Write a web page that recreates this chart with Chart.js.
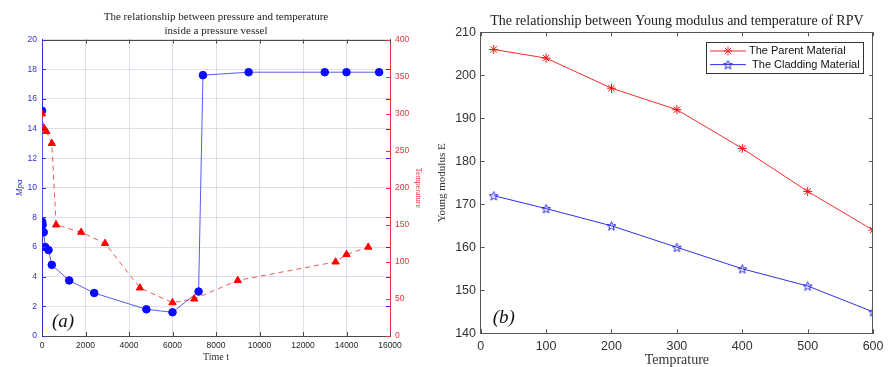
<!DOCTYPE html>
<html>
<head>
<meta charset="utf-8">
<script src="https://cdn.jsdelivr.net/npm/chart.js@4.4.1/dist/chart.umd.min.js"></script>
<style>
  html, body { margin: 0; padding: 0; background: #fff; }
  #wrap { position: relative; width: 889px; height: 367px; overflow: hidden; }
  #leftBox { position: absolute; left: 0; top: 0; }
  #rightBox { position: absolute; left: 432px; top: 0; }
</style>
</head>
<body>
<div id="wrap">
  <div id="leftBox"><canvas id="pressureChart" width="434" height="367"></canvas></div>
  <div id="rightBox"><canvas id="youngChart" width="457" height="367"></canvas></div>
</div>
<script>
// (a) 圧力容器内の圧力と温度
const pressureTime = [0, 10, 30, 80, 150, 300, 450, 1250, 2400, 4800, 6000, 7200, 7400, 9500, 13000, 14000, 15500];
const pressureValues = [15.2, 7.7, 7.5, 7.0, 6.0, 5.8, 4.8, 3.75, 2.9, 1.8, 1.6, 3.0, 17.6, 17.8, 17.8, 17.8, 17.8];
const tempTime = [0, 100, 200, 450, 650, 1800, 2900, 4500, 6000, 7000, 9000, 13500, 14000, 15000];
const tempValues = [300, 280, 276, 260, 150, 140, 125, 65, 45, 50, 75, 100, 110, 120];

// (b) ヤング率と温度
const tempratureCategories = [20, 100, 200, 300, 400, 500, 600];
const parentValues = [206, 204, 197, 192, 183, 173, 164];
const claddingValues = [172, 169, 165, 160, 155, 151, 145];
const seriesLabels = ['The Parent Material', ' The Cladding Material'];

Chart.defaults.font.family = '"Liberation Sans", Arial, sans-serif';
Chart.defaults.animation = false;

const BLUE = '#2f2fd8';
const RED = '#e8323c';
const FRAME = '#4a4a4a';

// 目盛りラベルはカンマ無し
function plainTick(value) { return String(value); }

// 枠線と内向きの目盛り線を描く
const frameTicks = {
  id: 'frameTicks',
  afterDatasetsDraw(chart, args, opts) {
    const ctx = chart.ctx;
    const a = chart.chartArea;
    const len = 4;
    ctx.save();
    ctx.lineWidth = 1;
    ctx.strokeStyle = opts.frameColor;
    ctx.beginPath();
    ctx.moveTo(a.left, Math.round(a.top) + 0.5);
    ctx.lineTo(a.right, Math.round(a.top) + 0.5);
    if (opts.rightFrame) {
      ctx.moveTo(Math.round(a.right) - 0.5, a.top);
      ctx.lineTo(Math.round(a.right) - 0.5, a.bottom);
    }
    ctx.stroke();
    (opts.marks || []).forEach(function (m) {
      const sc = chart.scales[m.scale];
      ctx.strokeStyle = m.color;
      ctx.beginPath();
      sc.ticks.forEach(function (t, i) {
        const p = Math.round(sc.getPixelForTick(i)) + 0.5;
        m.sides.forEach(function (side) {
          if (side === 'bottom') { ctx.moveTo(p, a.bottom); ctx.lineTo(p, a.bottom - len); }
          if (side === 'top') { ctx.moveTo(p, a.top); ctx.lineTo(p, a.top + len); }
          if (side === 'left') { ctx.moveTo(a.left, p); ctx.lineTo(a.left + len, p); }
          if (side === 'right') { ctx.moveTo(a.right, p); ctx.lineTo(a.right - len, p); }
        });
      });
      ctx.stroke();
    });
    ctx.restore();
  }
};

// (a) (b) のラベル
const panelTag = {
  id: 'panelTag',
  afterDraw(chart, args, opts) {
    const ctx = chart.ctx;
    const a = chart.chartArea;
    ctx.save();
    ctx.font = 'italic 19px "Liberation Serif", serif';
    ctx.fillStyle = '#111';
    ctx.textBaseline = 'middle';
    ctx.fillText(opts.text, a.left + opts.dx, a.bottom - opts.dy);
    ctx.restore();
  }
};

// タイトルをプロット領域の中央に合わせる
const titleOverPlot = {
  id: 'titleOverPlot',
  afterLayout(chart) {
    if (chart.titleBlock) {
      chart.titleBlock.left = chart.chartArea.left;
      chart.titleBlock.right = chart.chartArea.right;
    }
  }
};

// 枠付きの凡例（プロット内の右上）
const boxLegend = {
  id: 'boxLegend',
  afterDraw(chart, args, opts) {
    const ctx = chart.ctx;
    const a = chart.chartArea;
    const sets = chart.data.datasets;
    ctx.save();
    ctx.font = '11px "Liberation Sans", Arial, sans-serif';
    const textW = Math.max.apply(null, sets.map(function (d) { return ctx.measureText(d.label).width; }));
    const w = Math.round(43 + textW + 3);
    const h = 31;
    const x0 = Math.round(a.right - opts.right - w);
    const y0 = Math.round(a.top + opts.top);
    ctx.fillStyle = '#fff';
    ctx.fillRect(x0, y0, w, h);
    ctx.strokeStyle = '#333';
    ctx.lineWidth = 1;
    ctx.strokeRect(x0 + 0.5, y0 + 0.5, w, h);
    sets.forEach(function (d, i) {
      const cy = y0 + 9 + i * 13.6;
      ctx.strokeStyle = d.borderColor;
      ctx.fillStyle = d.borderColor;
      ctx.lineWidth = 1;
      ctx.beginPath();
      ctx.moveTo(x0 + 4, cy);
      ctx.lineTo(x0 + 40, cy);
      ctx.stroke();
      Chart.helpers.drawPoint(ctx, { pointStyle: d.pointStyle, radius: d.pointRadius, borderWidth: 1, rotation: 0 }, x0 + 22, cy);
      ctx.fillStyle = '#111';
      ctx.textBaseline = 'middle';
      ctx.fillText(d.label, x0 + 43, cy);
    });
    ctx.restore();
  }
};

// 五芒星マーカー
function makePentagram(color, size) {
  const c = document.createElement('canvas');
  c.width = size;
  c.height = size;
  const g = c.getContext('2d');
  const r = size / 2 - 0.8;
  const ri = r * 0.42;
  g.beginPath();
  for (let k = 0; k < 10; k++) {
    const ang = -Math.PI / 2 + k * Math.PI / 5;
    const rr = k % 2 ? ri : r;
    g.lineTo(size / 2 + rr * Math.cos(ang), size / 2 + 0.5 + rr * Math.sin(ang));
  }
  g.closePath();
  g.strokeStyle = color;
  g.lineWidth = 1;
  g.stroke();
  return c;
}

// ---------- (a) ----------
const gridColor = 'rgba(212, 212, 228, 0.75)';

new Chart(document.getElementById('pressureChart'), {
  type: 'scatter',
  data: {
    datasets: [
      {
        label: 'Pressure',
        data: pressureTime.map(function (t, i) { return { x: t, y: pressureValues[i] }; }),
        yAxisID: 'y',
        showLine: true,
        borderColor: '#5b5bea',
        borderWidth: 1,
        pointStyle: 'circle',
        pointRadius: 3.8,
        pointBackgroundColor: '#0a0aff',
        pointBorderColor: '#0a0aff',
        order: 1
      },
      {
        label: 'Temperature',
        data: tempTime.map(function (t, i) { return { x: t, y: tempValues[i] }; }),
        yAxisID: 'y1',
        showLine: true,
        borderColor: 'rgba(240, 70, 70, 0.9)',
        borderDash: [5, 4],
        borderWidth: 1,
        pointStyle: 'triangle',
        pointRadius: 4.2,
        pointBackgroundColor: '#ff0000',
        pointBorderColor: '#ff0000',
        order: 0
      }
    ]
  },
  options: {
    responsive: false,
    layout: { padding: 0 },
    plugins: {
      legend: { display: false },
      tooltip: { enabled: false },
      title: {
        display: true,
        text: ['The relationship between pressure and temperature', 'inside a pressure vessel'],
        color: '#222',
        font: { family: '"Liberation Serif", serif', size: 11, weight: 'normal', lineHeight: 1.3 },
        padding: { top: 10, bottom: 1 }
      },
      frameTicks: {
        frameColor: FRAME,
        rightFrame: false,
        marks: [
          { scale: 'x', sides: ['bottom', 'top'], color: FRAME },
          { scale: 'y', sides: ['left', 'right'], color: BLUE },
          { scale: 'y1', sides: ['right'], color: RED }
        ]
      },
      panelTag: { text: '(a)', dx: 10, dy: 14 }
    },
    scales: {
      x: {
        type: 'linear',
        min: 0,
        max: 16000,
        ticks: { stepSize: 2000, autoSkip: false, maxRotation: 0, color: '#262626', font: { size: 8.5 }, padding: 4.6, callback: plainTick },
        grid: { color: gridColor, drawTicks: false },
        border: { color: FRAME },
        title: {
          display: true,
          text: 'Time t',
          color: '#333',
          font: { family: '"Liberation Serif", serif', size: 10, lineHeight: 1 },
          padding: { top: 0, bottom: 5 }
        },
        afterFit(scale) { scale.height = 31; }
      },
      y: {
        position: 'left',
        min: 0,
        max: 20,
        ticks: { stepSize: 2, color: BLUE, font: { size: 8.5 }, padding: 5, callback: plainTick },
        grid: { color: gridColor, drawTicks: false },
        border: { color: BLUE },
        title: {
          display: true,
          text: 'Mpa',
          color: BLUE,
          font: { family: '"Liberation Serif", serif', size: 9, style: 'italic', lineHeight: 1 },
          padding: { top: 15.5, bottom: 0 }
        },
        afterFit(scale) { scale.width = 42; }
      },
      y1: {
        position: 'right',
        min: 0,
        max: 400,
        ticks: { stepSize: 50, color: RED, font: { size: 8.5 }, padding: 5, callback: plainTick },
        grid: { display: false, drawTicks: false },
        border: { color: RED },
        title: {
          display: true,
          text: 'Temperature',
          color: RED,
          font: { family: '"Liberation Serif", serif', size: 8, lineHeight: 1 },
          padding: { top: 12, bottom: 0 }
        },
        afterFit(scale) { scale.width = 44; }
      }
    }
  },
  plugins: [frameTicks, panelTag, titleOverPlot]
});

// ---------- (b) ----------
const starBlue = makePentagram('#2a2ae0', 11);

new Chart(document.getElementById('youngChart'), {
  type: 'scatter',
  data: {
    datasets: [
      {
        label: seriesLabels[0],
        data: tempratureCategories.map(function (t, i) { return { x: t, y: parentValues[i] }; }),
        showLine: true,
        borderColor: '#f03030',
        borderWidth: 1,
        pointStyle: 'star',
        pointRadius: 4.5,
        pointBorderWidth: 1,
        pointBorderColor: '#f01010',
        pointBackgroundColor: '#f01010'
      },
      {
        label: seriesLabels[1],
        data: tempratureCategories.map(function (t, i) { return { x: t, y: claddingValues[i] }; }),
        showLine: true,
        borderColor: '#3030e0',
        borderWidth: 1,
        pointStyle: starBlue,
        pointRadius: 5,
        pointBorderColor: '#2a2ae0',
        pointBackgroundColor: '#2a2ae0'
      }
    ]
  },
  options: {
    responsive: false,
    layout: { padding: { right: 12.7, left: 0, top: 0, bottom: 0 } },
    plugins: {
      legend: { display: false },
      tooltip: { enabled: false },
      title: {
        display: true,
        text: 'The relationship between Young modulus and temperature of RPV',
        color: '#222',
        font: { family: '"Liberation Serif", serif', size: 14, weight: 'normal', lineHeight: 1.2 },
        padding: { top: 12.6, bottom: 2.9 }
      },
      frameTicks: {
        frameColor: '#555',
        rightFrame: true,
        marks: [
          { scale: 'x', sides: ['bottom', 'top'], color: '#555' },
          { scale: 'y', sides: ['left', 'right'], color: '#555' }
        ]
      },
      panelTag: { text: '(b)', dx: 12, dy: 15 },
      boxLegend: { right: 10.3, top: 9.4 }
    },
    scales: {
      x: {
        type: 'linear',
        min: 0,
        max: 600,
        ticks: { stepSize: 100, autoSkip: false, maxRotation: 0, color: '#333', font: { size: 12.5 }, padding: 5.5, callback: plainTick },
        grid: { color: 'rgba(0,0,0,0)', drawTicks: false },
        border: { color: '#555' },
        title: {
          display: true,
          text: 'Temprature',
          color: '#333',
          font: { family: '"Liberation Serif", serif', size: 14, lineHeight: 1 },
          padding: { top: 0, bottom: 0 }
        },
        afterFit(scale) { scale.height = 33.7; }
      },
      y: {
        min: 140,
        max: 210,
        ticks: { stepSize: 10, color: '#333', font: { size: 12.5 }, padding: 4.7, callback: plainTick },
        grid: { color: 'rgba(0,0,0,0)', drawTicks: false },
        border: { color: '#555' },
        title: {
          display: true,
          text: 'Young modulus E',
          color: '#333',
          font: { family: '"Liberation Serif", serif', size: 11, lineHeight: 1 },
          padding: { top: 4.5, bottom: 0 }
        },
        afterFit(scale) { scale.width = 48.7; }
      }
    }
  },
  plugins: [frameTicks, panelTag, titleOverPlot, boxLegend]
});
</script>
</body>
</html>
